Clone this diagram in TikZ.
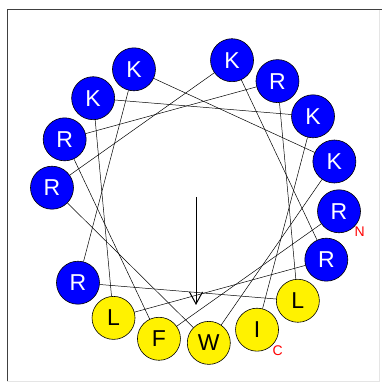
\documentclass[tikz,border=0pt]{standalone}
\usepackage{fontspec}
\setmainfont{Liberation Sans}
\usetikzlibrary{arrows.meta}

\begin{document}
\begin{tikzpicture}[x=1pt,y=1pt,
    res/.style={circle,draw,line width=0.6pt,minimum size=43pt,inner sep=0pt,
                font=\fontsize{23}{23}\selectfont},
    basic/.style={res,fill=blue,text=white},
    hydro/.style={res,fill=yellow,text=black},
    term/.style={text=red,inner sep=0pt,font=\fontsize{14}{14}\selectfont},
    link/.style={line width=0.5pt}]
  \useasboundingbox (0,0) rectangle (382,382);
  \draw[line width=1pt,black!75] (7,0) -- (7,372) -- (382,372);
  \draw[line width=0.6pt,black!10] (379,372) -- (379,1) -- (7,1);
  \begin{scope}[shift={(195.5,182.5)}]
    \foreach \aa/\cls [count=\i] in {R/basic,F/hydro,R/basic,R/basic,L/hydro,R/basic,K/basic,K/basic,
                                     W/hydro,R/basic,K/basic,R/basic,L/hydro,K/basic,K/basic,I/hydro}
      \node[\cls] (r\i) at ({355.3-100*(\i-1)}:144) {\aa};
  \end{scope}
  \foreach \i [evaluate=\i as \j using int(\i+1)] in {1,...,15}
    \draw[link] (r\i) -- (r\j);
  \node[term,anchor=north west] (nterm) at (r1.south east) {N};
  \node[term,anchor=north west] (cterm) at (r16.south east) {C};
  % hydrophobic moment
  \coordinate (mstart) at (196,185);
  \coordinate (mend) at (196,77);
  \draw[line width=1pt,-{Straight Barb[length=12pt,width=13pt]}] (mstart) -- (mend);
\end{tikzpicture}
\end{document}
